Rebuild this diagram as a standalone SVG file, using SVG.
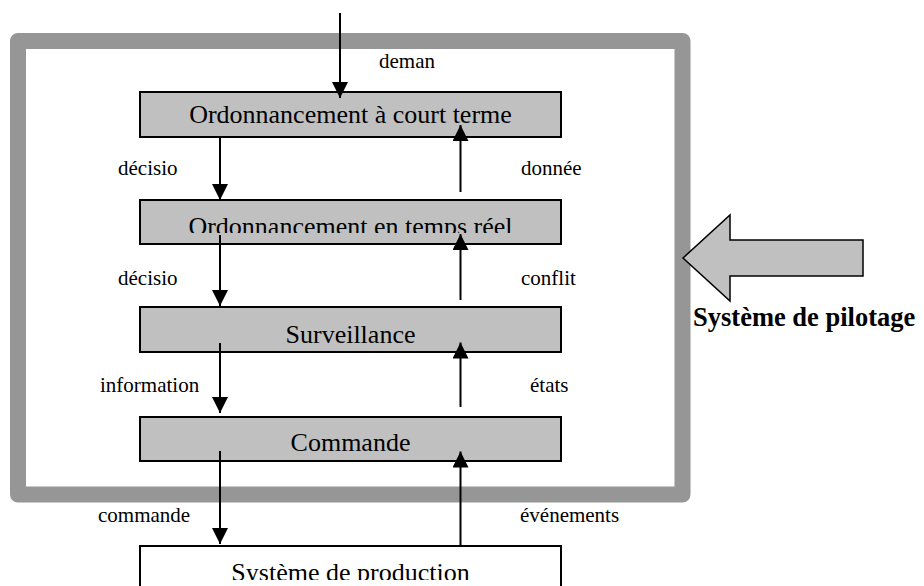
<svg xmlns="http://www.w3.org/2000/svg" width="924" height="586" viewBox="0 0 924 586">
  <style>
    .box { fill: #c0c0c0; stroke: #000; stroke-width: 2; }
    .wbox { fill: #fff; stroke: #000; stroke-width: 2; }
    .btxt { font-family: "Liberation Serif", "Times New Roman", serif; font-size: 26px; fill: #000; text-anchor: middle; }
    .lbl { font-family: "Liberation Serif", "Times New Roman", serif; font-size: 21px; fill: #000; }
    .conn { stroke: #000; stroke-width: 2; fill: none; marker-end: url(#ah); }
  </style>
  <defs>
    <marker id="ah" markerUnits="userSpaceOnUse" markerWidth="17" markerHeight="17" refX="16" refY="8" orient="auto" viewBox="0 0 17 17">
      <path d="M0,0 L16,8 L0,16 z" fill="#000"/>
    </marker>
    <clipPath id="clip2"><rect x="140" y="200" width="421" height="33"/></clipPath>
    <clipPath id="clip5"><rect x="140" y="546" width="421" height="34"/></clipPath>
  </defs>
  <rect width="924" height="586" fill="#fff"/>

  <g id="frame">
    <rect x="18" y="41" width="664.5" height="453.5" fill="none" stroke="#969696" stroke-width="16" stroke-linejoin="round"/>
  </g>

  <g id="pilotage">
    <polygon points="683,258 730,215 730,240 863,240 863,276 730,276 730,301" fill="#c0c0c0" stroke="#000" stroke-width="1.5"/>
    <text x="693" y="326" font-family="'Liberation Serif', 'Times New Roman', serif" font-size="26.5" font-weight="bold">Système de pilotage</text>
  </g>

  <g id="n1">
    <rect class="box" x="140" y="92" width="421" height="45"/>
    <text class="btxt" x="350.5" y="123">Ordonnancement à court terme</text>
  </g>
  <g id="n2">
    <rect class="box" x="140" y="200" width="421" height="44"/>
    <text class="btxt" x="350.5" y="234.5" clip-path="url(#clip2)">Ordonnancement en temps réel</text>
  </g>
  <g id="n3">
    <rect class="box" x="140" y="307" width="421" height="45"/>
    <text class="btxt" x="350.5" y="343">Surveillance</text>
  </g>
  <g id="n4">
    <rect class="box" x="140" y="417" width="421" height="44"/>
    <text class="btxt" x="350.5" y="451">Commande</text>
  </g>
  <g id="n5">
    <rect class="wbox" x="140" y="546" width="421" height="60"/>
    <text class="btxt" x="350.5" y="581" clip-path="url(#clip5)">Système de production</text>
  </g>

  <g id="connectors">
    <line class="conn" x1="340" y1="13" x2="340" y2="98"/>
    <line class="conn" x1="220" y1="137" x2="220" y2="200"/>
    <line class="conn" x1="460.5" y1="192" x2="460.5" y2="125"/>
    <line class="conn" x1="220" y1="235" x2="220" y2="306"/>
    <line class="conn" x1="460.5" y1="300" x2="460.5" y2="234"/>
    <line class="conn" x1="220" y1="343" x2="220" y2="413"/>
    <line class="conn" x1="460.5" y1="407" x2="460.5" y2="342.5"/>
    <line class="conn" x1="220" y1="451" x2="220" y2="544"/>
    <line class="conn" x1="460.5" y1="546" x2="460.5" y2="451.5"/>
  </g>

  <g id="labels">
    <text class="lbl" x="379" y="68">deman</text>
    <text class="lbl" x="118" y="175">décisio</text>
    <text class="lbl" x="521" y="175">donnée</text>
    <text class="lbl" x="118" y="285">décisio</text>
    <text class="lbl" x="521" y="285">conflit</text>
    <text class="lbl" x="100" y="392">information</text>
    <text class="lbl" x="530" y="392">états</text>
    <text class="lbl" x="98" y="522">commande</text>
    <text class="lbl" x="520" y="522">événements</text>
  </g>
</svg>
